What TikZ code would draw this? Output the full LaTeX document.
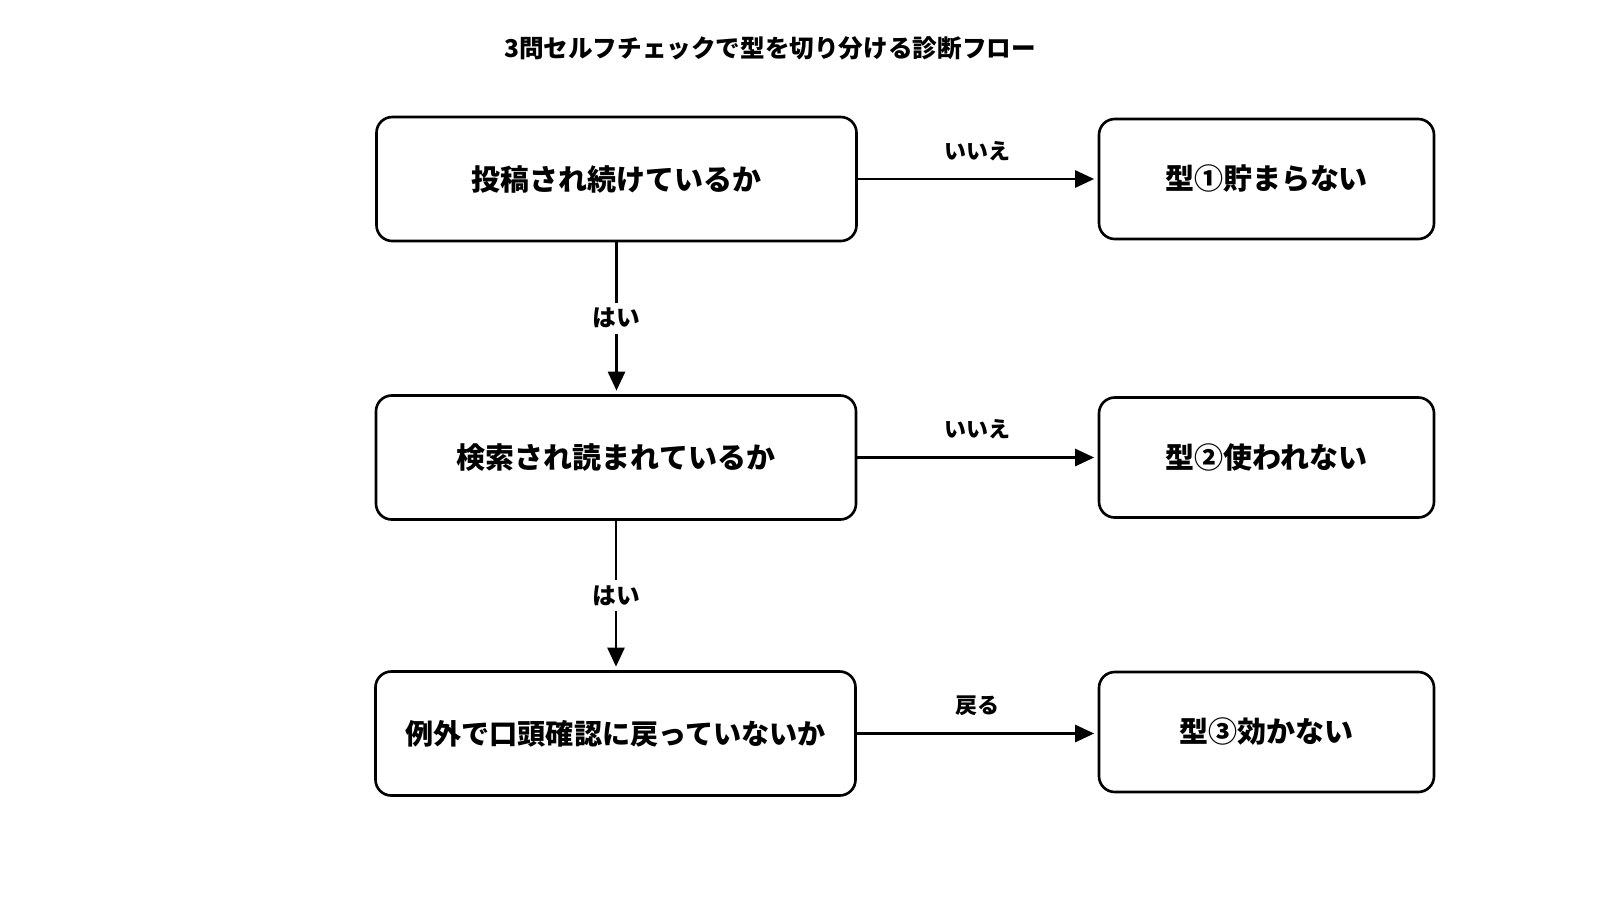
\documentclass[tikz,border=0pt]{standalone}
\usepackage{fontspec}
\setmainfont{Noto Sans CJK JP}
\usepackage{tikz}
\usetikzlibrary{positioning, arrows.meta}

\begin{document}
\begin{tikzpicture}[
  font=\bfseries\fontsize{16.5}{20}\selectfont,
  line width=1.5pt,
  qbox/.style={draw, rounded corners=9pt, minimum width=9.6cm,
               minimum height=2.48cm, align=center},
  rbox/.style={draw, rounded corners=9pt, minimum width=6.7cm,
               minimum height=2.4cm, align=center},
  arr/.style={-{Triangle[length=0.38cm, width=0.34cm]}, shorten >=2pt},
  lab/.style={font=\bfseries\fontsize{12.5}{15}\selectfont},
  yes/.style={font=\bfseries\fontsize{13.5}{16}\selectfont, fill=white,
              inner sep=3pt}
]
\useasboundingbox (0,0) rectangle (32,-18);
\node[font=\bfseries\fontsize{14}{17}\selectfont] (title) at (15.4,-0.96)
  {3問セルフチェックで型を切り分ける診断フロー};

\node[qbox] (post) at (12.33,-3.58) {投稿され続けているか};
\node[qbox] (read) at (12.32,-9.15) {検索され読まれているか};
\node[qbox, font=\bfseries\fontsize{16}{20}\selectfont] (oral) at (12.31,-14.67)
  {例外で口頭確認に戻っていないか};

\node[rbox] (t1) at (25.33,-3.58) {型①貯まらない};
\node[rbox] (t2) at (25.33,-9.15) {型②使われない};
\node[rbox] (t3) at (25.33,-14.64) {型③効かない};

\draw[arr] (post) -- node[yes] {はい} (post |- read.north);
\draw[arr] (read) -- node[yes] {はい} (read |- oral.north);
\draw[arr] (post) -- node[lab, above=0.22cm] {いいえ} (t1);
\draw[arr] (read) -- node[lab, above=0.22cm] {いいえ} (t2);
\draw[arr] (oral.east) -- node[lab, above=0.22cm] {戻る} (t3.west |- oral.east);
\end{tikzpicture}
\end{document}
